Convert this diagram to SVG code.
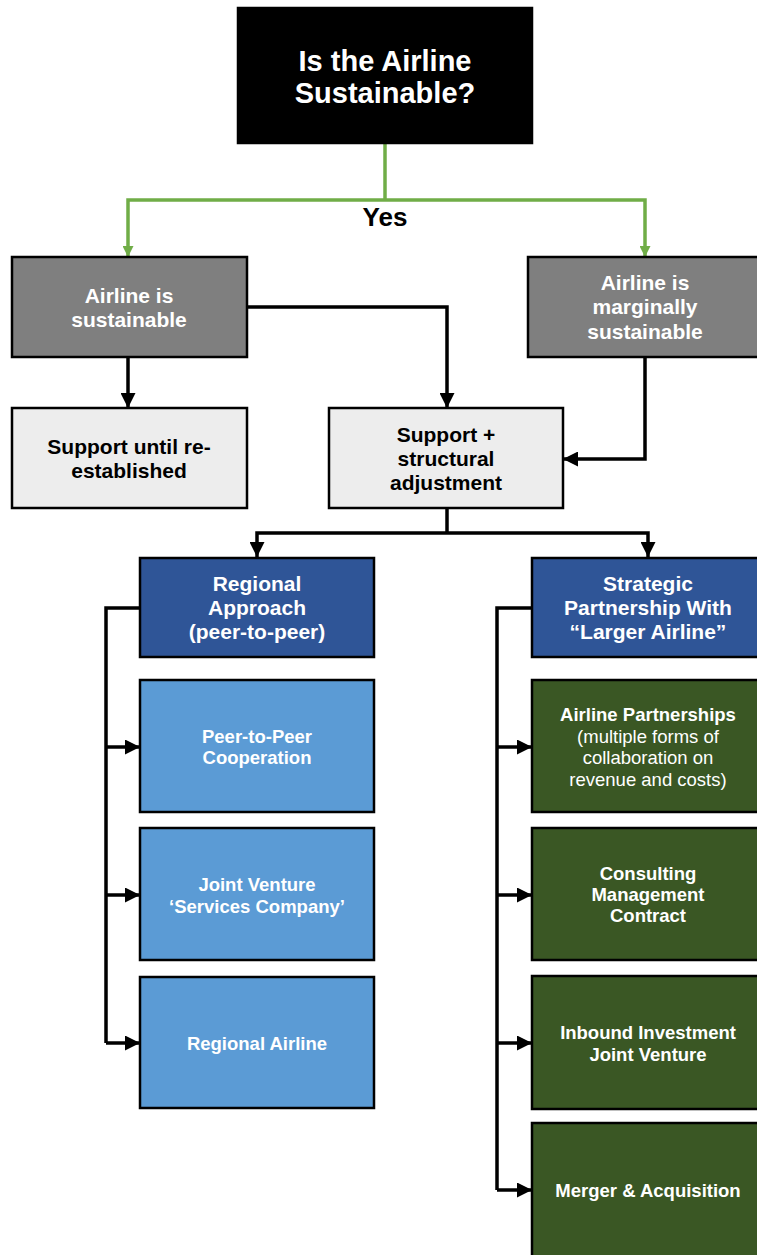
<svg xmlns="http://www.w3.org/2000/svg" width="757" height="1255" viewBox="0 0 757 1255">
<defs>
<marker id="ab" viewBox="0 0 10 10" markerUnits="userSpaceOnUse" markerWidth="16" markerHeight="15" refX="10" refY="5" orient="auto"><path d="M0,0 L10,5 L0,10 z" fill="#000"/></marker>
<marker id="ag" viewBox="0 0 10 10" markerUnits="userSpaceOnUse" markerWidth="11" markerHeight="11" refX="10" refY="5" orient="auto"><path d="M0,0 L10,5 L0,10 z" fill="#70ad47"/></marker>
</defs>
<style>
.box{stroke:#000;stroke-width:2.5}
.t{font-family:"Liberation Sans",Arial,sans-serif;font-weight:bold;text-anchor:middle}
.w{fill:#fff}
.k{fill:#000}
.c{fill:none;stroke:#000;stroke-width:3.5;marker-end:url(#ab)}
.cn{fill:none;stroke:#000;stroke-width:3.5}
.g{fill:none;stroke:#70ad47;stroke-width:3.5;marker-end:url(#ag)}
.n{font-weight:normal}
.s{font-size:18.5px}
.m{font-size:21px}
</style>
<rect width="757" height="1255" fill="#fff"/>
<g id="connectors">
<path class="cn" d="M385,143 V200" style="stroke:#70ad47"/>
<path class="g" d="M385,200 H128 V257"/>
<path class="g" d="M385,200 H645 V257"/>
<path class="c" d="M128,357 V408"/>
<path class="c" d="M247,307 H447 V408"/>
<path class="c" d="M645,357 V459 H563"/>
<path class="cn" d="M447,508 V533"/>
<path class="c" d="M447,533 H257 V557"/>
<path class="c" d="M447,533 H648 V557"/>
<path class="cn" d="M140,608 H106 V1043"/>
<path class="c" d="M106,747 H140"/>
<path class="c" d="M106,895 H140"/>
<path class="c" d="M106,1043 H140"/>
<path class="cn" d="M532,608 H497 V1190"/>
<path class="c" d="M497,747 H532"/>
<path class="c" d="M497,895 H532"/>
<path class="c" d="M497,1043 H532"/>
<path class="c" d="M497,1190 H532"/>
</g>
<g id="yes-label"><text class="t k" x="385" y="226" font-size="26">Yes</text></g>
<g id="n-top">
<rect class="box" x="238" y="8" width="294" height="135" fill="#000"/>
<text class="t w" x="385" y="71" font-size="29">Is the Airline</text>
<text class="t w" x="385" y="103" font-size="29">Sustainable?</text>
</g>
<g id="n-sustainable">
<rect class="box" x="12" y="257" width="235" height="100" fill="#7f7f7f"/>
<text class="t w m" x="129" y="303">Airline is</text>
<text class="t w m" x="129" y="327">sustainable</text>
</g>
<g id="n-marginal">
<rect class="box" x="528" y="257" width="236" height="100" fill="#7f7f7f"/>
<text class="t w m" x="645" y="290">Airline is</text>
<text class="t w m" x="645" y="314">marginally</text>
<text class="t w m" x="645" y="339">sustainable</text>
</g>
<g id="n-support">
<rect class="box" x="12" y="408" width="235" height="100" fill="#ededed"/>
<text class="t k m" x="129" y="454">Support until re-</text>
<text class="t k m" x="129" y="478">established</text>
</g>
<g id="n-support-struct">
<rect class="box" x="329" y="408" width="234" height="100" fill="#ededed"/>
<text class="t k m" x="446" y="442">Support +</text>
<text class="t k m" x="446" y="466">structural</text>
<text class="t k m" x="446" y="490">adjustment</text>
</g>
<g id="n-regional">
<rect class="box" x="140" y="558" width="234" height="99" fill="#2f5597"/>
<text class="t w m" x="257" y="591">Regional</text>
<text class="t w m" x="257" y="615">Approach</text>
<text class="t w m" x="257" y="639">(peer-to-peer)</text>
</g>
<g id="n-strategic">
<rect class="box" x="532" y="558" width="232" height="99" fill="#2f5597"/>
<text class="t w m" x="648" y="591">Strategic</text>
<text class="t w m" x="648" y="615">Partnership With</text>
<text class="t w m" x="648" y="639">“Larger Airline”</text>
</g>
<g id="n-p2p">
<rect class="box" x="140" y="680" width="234" height="132" fill="#5b9bd5"/>
<text class="t w s" x="257" y="743">Peer-to-Peer</text>
<text class="t w s" x="257" y="764">Cooperation</text>
</g>
<g id="n-jv">
<rect class="box" x="140" y="828" width="234" height="132" fill="#5b9bd5"/>
<text class="t w s" x="257" y="891">Joint Venture</text>
<text class="t w s" x="257" y="913">‘Services Company’</text>
</g>
<g id="n-regional-airline">
<rect class="box" x="140" y="977" width="234" height="131" fill="#5b9bd5"/>
<text class="t w s" x="257" y="1050">Regional Airline</text>
</g>
<g id="n-partnerships">
<rect class="box" x="532" y="680" width="232" height="132" fill="#3a5724"/>
<text class="t w s" x="648" y="721">Airline Partnerships</text>
<text class="t w s n" x="648" y="743">(multiple forms of</text>
<text class="t w s n" x="648" y="764">collaboration on</text>
<text class="t w s n" x="648" y="786">revenue and costs)</text>
</g>
<g id="n-consulting">
<rect class="box" x="532" y="828" width="232" height="132" fill="#3a5724"/>
<text class="t w s" x="648" y="880">Consulting</text>
<text class="t w s" x="648" y="901">Management</text>
<text class="t w s" x="648" y="922">Contract</text>
</g>
<g id="n-inbound">
<rect class="box" x="532" y="976" width="232" height="133" fill="#3a5724"/>
<text class="t w s" x="648" y="1039">Inbound Investment</text>
<text class="t w s" x="648" y="1061">Joint Venture</text>
</g>
<g id="n-merger">
<rect class="box" x="532" y="1123" width="232" height="140" fill="#3a5724"/>
<text class="t w s" x="648" y="1197">Merger &amp; Acquisition</text>
</g>
</svg>
